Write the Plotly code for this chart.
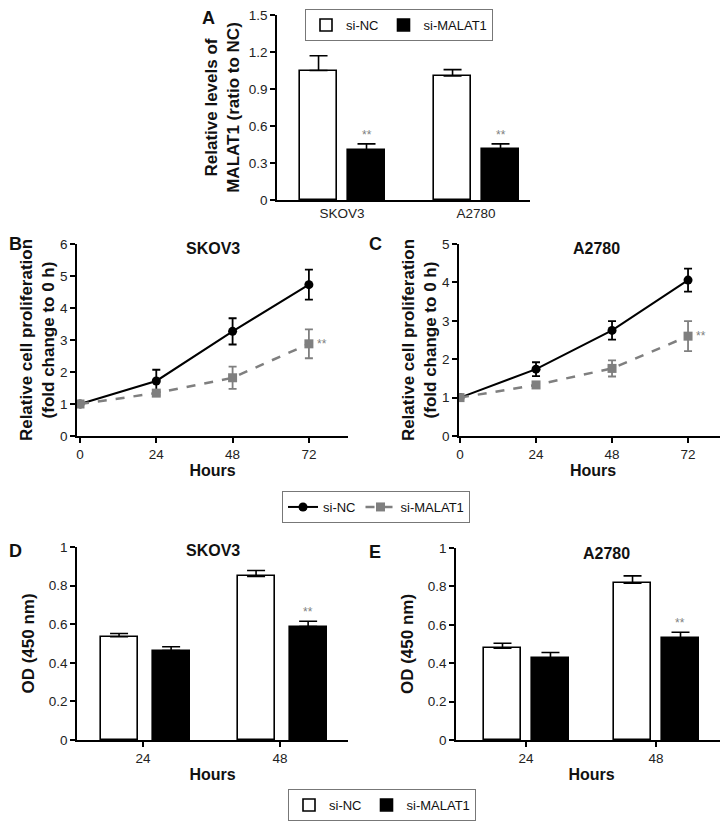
import plotly.graph_objects as go

# the page body has an 8px margin, so the plot div starts at (8, 8)
OFF = 8
W, H = 728 - OFF, 822 - OFF

# ---------------- data ----------------
groups = ["si-NC", "si-MALAT1"]

# Panel A: relative MALAT1 levels
a_cells = ["SKOV3", "A2780"]
a_nc = [1.05, 1.005]
a_nc_err = [0.12, 0.052]
a_mal = [0.405, 0.41]
a_mal_err = [0.05, 0.045]

# Panels B / C: proliferation curves
hours = [0, 24, 48, 72]
b_nc = [1.0, 1.72, 3.27, 4.73]
b_nc_err = [0.0, 0.35, 0.41, 0.47]
b_mal = [1.0, 1.34, 1.82, 2.88]
b_mal_err = [0.0, 0.06, 0.35, 0.45]

c_nc = [1.0, 1.74, 2.75, 4.06]
c_nc_err = [0.0, 0.18, 0.24, 0.30]
c_mal = [1.0, 1.33, 1.76, 2.60]
c_mal_err = [0.0, 0.05, 0.21, 0.39]

# Panels D / E: OD 450 nm
od_hours = ["24", "48"]
d_nc = [0.535, 0.848]
d_nc_err = [0.017, 0.03]
d_mal = [0.463, 0.588]
d_mal_err = [0.02, 0.027]

e_nc = [0.478, 0.817]
e_nc_err = [0.026, 0.038]
e_mal = [0.428, 0.531]
e_mal_err = [0.028, 0.03]

a_ticks = [0, 0.3, 0.6, 0.9, 1.2, 1.5]
a_ticktext = ["0", "0.3", "0.6", "0.9", "1.2", "1.5"]
b_ticks = [0, 1, 2, 3, 4, 5, 6]
c_ticks = [0, 1, 2, 3, 4, 5]
od_ticks = [0, 0.2, 0.4, 0.6, 0.8, 1.0]
od_ticktext = ["0", "0.2", "0.4", "0.6", "0.8", "1"]

FONT = "Liberation Sans, Arial, sans-serif"
GRAY = "#7f7f7f"


def px(x):
    return min(1.0, max(0.0, (x - OFF) / W))


def py(y):
    return min(1.0, max(0.0, 1 - (y - OFF) / H))


fig = go.Figure()


def add_bars(xa, ya, cats, nc, nc_err, mal, mal_err, off_nc, off_mal, width, legend, show):
    xs = list(range(len(cats)))
    fig.add_trace(go.Bar(
        x=xs, y=nc, name=groups[0], xaxis=xa, yaxis=ya,
        width=width, offset=off_nc,
        marker=dict(color="white", line=dict(color="black", width=1.6)),
        error_y=dict(type="data", array=nc_err, arrayminus=[0] * len(nc),
                     symmetric=False, color="black", thickness=1.6, width=9),
        legend=legend, showlegend=show, legendgroup=legend + "nc"))
    fig.add_trace(go.Bar(
        x=xs, y=mal, name=groups[1], xaxis=xa, yaxis=ya,
        width=width, offset=off_mal,
        marker=dict(color="black", line=dict(color="black", width=1.6)),
        error_y=dict(type="data", array=mal_err, arrayminus=[0] * len(mal),
                     symmetric=False, color="black", thickness=1.6, width=9),
        legend=legend, showlegend=show, legendgroup=legend + "mal"))


def add_lines(xa, ya, nc, nc_err, mal, mal_err, show):
    fig.add_trace(go.Scatter(
        x=hours, y=nc, name=groups[0], xaxis=xa, yaxis=ya, mode="lines+markers",
        line=dict(color="black", width=2),
        marker=dict(symbol="circle", size=9, color="black"),
        error_y=dict(type="data", array=nc_err, color="black", thickness=1.8, width=4),
        legend="legend2", showlegend=show, legendgroup="lnc"))
    fig.add_trace(go.Scatter(
        x=hours, y=mal, name=groups[1], xaxis=xa, yaxis=ya, mode="lines+markers",
        line=dict(color=GRAY, width=2.5, dash="dash"),
        marker=dict(symbol="square", size=9, color=GRAY),
        error_y=dict(type="data", array=mal_err, color=GRAY, thickness=1.8, width=4),
        legend="legend2", showlegend=show, legendgroup="lmal"))


add_bars("x", "y", a_cells, a_nc, a_nc_err, a_mal, a_mal_err, -0.313, 0.045, 0.276, "legend", True)
add_lines("x2", "y2", b_nc, b_nc_err, b_mal, b_mal_err, True)
add_lines("x3", "y3", c_nc, c_nc_err, c_mal, c_mal_err, False)
add_bars("x4", "y4", od_hours, d_nc, d_nc_err, d_mal, d_mal_err, -0.31, 0.07, 0.27, "legend3", True)
add_bars("x5", "y5", od_hours, e_nc, e_nc_err, e_mal, e_mal_err, -0.323, 0.046, 0.285, "legend3", False)

axis_common = dict(showline=True, linecolor="black", linewidth=1.5, ticks="outside",
                   ticklen=5, tickwidth=1.5, tickcolor="black", showgrid=False,
                   zeroline=False, tickfont=dict(family=FONT, size=13.5, color="#222"),
                   ticklabeloverflow="allow", fixedrange=True)
ytitle_font = dict(family=FONT, size=17, color="#111")
xtitle_font = dict(family=FONT, size=16, color="#111")

fig.update_layout(
    width=W, height=H, margin=dict(l=0, r=0, t=0, b=0, autoexpand=False),
    paper_bgcolor="white", plot_bgcolor="white",
    font=dict(family=FONT, color="#111"),
    bargap=0,
    xaxis=dict(axis_common, domain=[px(277), px(530)], range=[-0.485, 1.403],
               tickvals=[0, 1], ticktext=a_cells, ticks="", anchor="y"),
    yaxis=dict(axis_common, domain=[py(200), py(15)], range=[0, 1.5],
               tickvals=a_ticks, ticktext=a_ticktext, anchor="x",
               title=dict(text="<b>Relative levels of<br>MALAT1 (ratio to NC)</b>",
                          font=ytitle_font, standoff=5)),
    xaxis2=dict(axis_common, domain=[px(77), px(348)], range=[-0.94, 84.3],
                tickvals=hours, anchor="y2",
                title=dict(text="<b>Hours</b>", font=xtitle_font, standoff=2)),
    yaxis2=dict(axis_common, domain=[py(436), py(244)], range=[0, 6],
                tickvals=b_ticks, anchor="x2",
                title=dict(text="<b>Relative cell proliferation<br>(fold change to 0 h)</b>",
                           font=ytitle_font, standoff=1)),
    xaxis3=dict(axis_common, domain=[px(459), px(727)], range=[-0.32, 84.3],
                tickvals=hours, anchor="y3",
                title=dict(text="<b>Hours</b>", font=xtitle_font, standoff=2)),
    yaxis3=dict(axis_common, domain=[py(436), py(244)], range=[0, 5],
                tickvals=c_ticks, anchor="x3",
                title=dict(text="<b>Relative cell proliferation<br>(fold change to 0 h)</b>",
                           font=ytitle_font, standoff=1)),
    xaxis4=dict(axis_common, domain=[px(77), px(348)], range=[-0.482, 1.496],
                tickvals=[0, 1], ticktext=od_hours, anchor="y4",
                title=dict(text="<b>Hours</b>", font=xtitle_font, standoff=4)),
    yaxis4=dict(axis_common, domain=[py(740), py(547)], range=[0, 1.0],
                tickvals=od_ticks, ticktext=od_ticktext, anchor="x4",
                title=dict(text="<b>OD (450 nm)</b>", font=ytitle_font, standoff=10)),
    xaxis5=dict(axis_common, domain=[px(456), px(727)], range=[-0.538, 1.546],
                tickvals=[0, 1], ticktext=od_hours, anchor="y5",
                title=dict(text="<b>Hours</b>", font=xtitle_font, standoff=4)),
    yaxis5=dict(axis_common, domain=[py(740), py(548)], range=[0, 1.0],
                tickvals=od_ticks, ticktext=od_ticktext, anchor="x5",
                title=dict(text="<b>OD (450 nm)</b>", font=ytitle_font, standoff=10)),
    legend=dict(orientation="h", x=px(305), y=py(9), xanchor="left", yanchor="top",
                bordercolor="#777", borderwidth=1, bgcolor="white",
                font=dict(family=FONT, size=13), traceorder="normal"),
    legend2=dict(orientation="h", x=px(282), y=py(491), xanchor="left", yanchor="top",
                 bordercolor="#777", borderwidth=1, bgcolor="white",
                 font=dict(family=FONT, size=13), traceorder="normal"),
    legend3=dict(orientation="h", x=px(288), y=py(821), xanchor="left", yanchor="bottom",
                 bordercolor="#777", borderwidth=1, bgcolor="white",
                 font=dict(family=FONT, size=13), traceorder="normal"),
)

annotations = []
for letter, x, y in [("A", 208, 18), ("B", 15, 244), ("C", 375, 244), ("D", 15, 551), ("E", 375, 552)]:
    annotations.append(dict(text=f"<b>{letter}</b>", x=px(x), y=py(y), xref="paper", yref="paper",
                            showarrow=False, xanchor="center", yanchor="middle",
                            font=dict(family=FONT, size=18, color="#111")))
for t, x, y in [("SKOV3", 213, 248), ("A2780", 596, 248), ("SKOV3", 213, 550), ("A2780", 606, 553)]:
    annotations.append(dict(text=f"<b>{t}</b>", x=px(x), y=py(y), xref="paper", yref="paper",
                            showarrow=False, xanchor="center", yanchor="middle",
                            font=dict(family=FONT, size=16, color="#111")))

star = dict(showarrow=False, font=dict(family=FONT, size=12, color=GRAY), text="**")
for i, (v, e) in enumerate(zip(a_mal, a_mal_err)):
    annotations.append(dict(star, x=i + 0.045 + 0.138, y=v + e, xref="x", yref="y",
                            yanchor="bottom"))
annotations.append(dict(star, x=hours[-1], y=b_mal[-1], xref="x2", yref="y2",
                        xanchor="left", yanchor="middle", xshift=6))
annotations.append(dict(star, x=hours[-1], y=c_mal[-1], xref="x3", yref="y3",
                        xanchor="left", yanchor="middle", xshift=6))
annotations.append(dict(star, x=1 + 0.07 + 0.135, y=d_mal[-1] + d_mal_err[-1], xref="x4", yref="y4",
                        yanchor="bottom"))
annotations.append(dict(star, x=1 + 0.046 + 0.142, y=e_mal[-1] + e_mal_err[-1], xref="x5", yref="y5",
                        yanchor="bottom"))

fig.update_layout(annotations=annotations)

fig.write_html("out.html")
